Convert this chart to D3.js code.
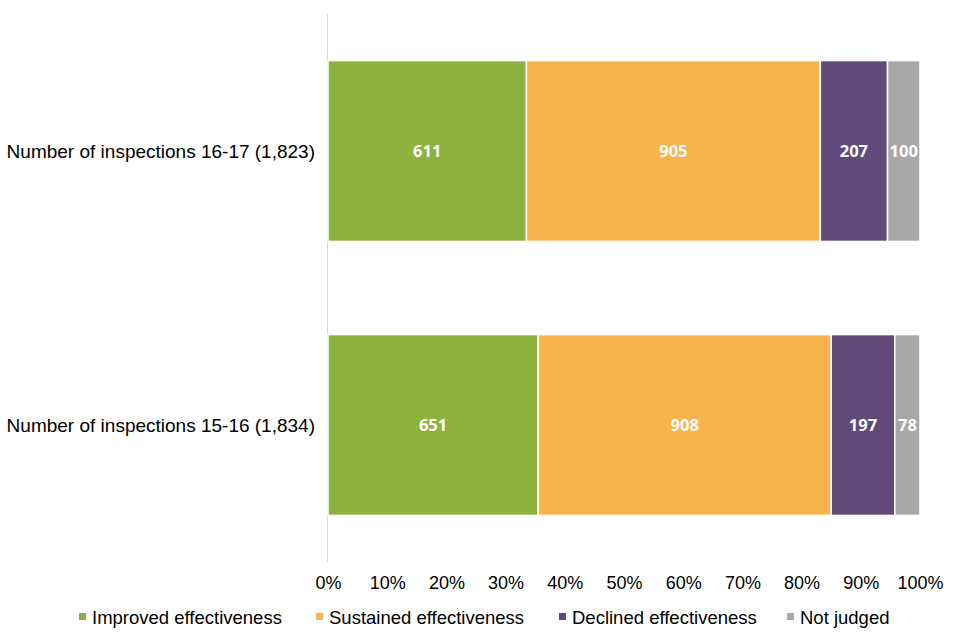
<!DOCTYPE html>
<html>
<head>
<meta charset="utf-8">
<script src="https://cdn.jsdelivr.net/npm/d3@7"></script>
<style>
  body { margin: 0; background: #fff; }
  text { font-family: "Liberation Sans", Arial, sans-serif; }
  .barlabel { font-family: "Open Sans", "Noto Sans", sans-serif; font-weight: bold; fill: #fff; }
</style>
</head>
<body>
<div id="chart"></div>
<script>
const categories = ["Number of inspections 16-17 (1,823)", "Number of inspections 15-16 (1,834)"];
const seriesNames = ["Improved effectiveness", "Sustained effectiveness", "Declined effectiveness", "Not judged"];
const improved = [611, 651];
const sustained = [905, 908];
const declined = [207, 197];
const notJudged = [100, 78];
const tickValues = [0, 0.1, 0.2, 0.3, 0.4, 0.5, 0.6, 0.7, 0.8, 0.9, 1];
const colors = ["#8cb33f", "#f8b34d", "#604a7a", "#a8a8a8"];

const width = 960, height = 640;
const margin = { left: 328, right: 40, top: 14, bottom: 78 };

// build rows from the arrays
const rows = categories.map((c, i) => {
  const vals = [improved[i], sustained[i], declined[i], notJudged[i]];
  const total = d3.sum(vals);
  let acc = 0;
  return {
    cat: c,
    parts: vals.map((v, k) => {
      const p = { key: k, value: v, x0: acc / total, x1: (acc + v) / total };
      acc += v;
      return p;
    })
  };
});

const svg = d3.select("#chart").append("svg")
  .attr("width", width)
  .attr("height", height);

const x = d3.scaleLinear()
  .domain([0, 1])
  .range([margin.left, 920]);

const y = d3.scaleBand()
  .domain(categories)
  .range([margin.top, height - margin.bottom])
  .paddingInner(0.34)
  .paddingOuter(0.17);

// vertical axis line
svg.append("line")
  .attr("x1", x(0) - 0.5).attr("x2", x(0) - 0.5)
  .attr("y1", margin.top).attr("y2", height - margin.bottom)
  .attr("stroke", "#d9d9d9").attr("stroke-width", 1);

//------------------------------------------------------------- bars
const g = svg.selectAll("g.row")
  .data(rows)
  .enter().append("g")
  .attr("class", "row");

g.selectAll("rect")
  .data(d => d.parts.map(p => Object.assign({ cat: d.cat }, p)))
  .enter().append("rect")
  .attr("x", d => x(d.x0))
  .attr("y", d => y(d.cat))
  .attr("width", d => x(d.x1) - x(d.x0))
  .attr("height", y.bandwidth())
  .attr("fill", d => colors[d.key])
  .attr("stroke", "#fff")
  .attr("stroke-width", 1.5);

g.selectAll("text.barlabel")
  .data(d => d.parts.map(p => Object.assign({ cat: d.cat }, p)))
  .enter().append("text")
  .attr("class", "barlabel")
  .attr("x", d => (x(d.x0) + x(d.x1)) / 2)
  .attr("y", d => y(d.cat) + y.bandwidth() / 2)
  .attr("dy", "0.36em")
  .attr("text-anchor", "middle")
  .attr("font-size", 16.5)
  .text(d => d.value);

//------------------------------------------------------------- axes
const xAxis = d3.axisBottom(x)
  .tickValues(tickValues)
  .tickFormat(d3.format(".0%"))
  .tickSize(0)
  .tickPadding(0);

svg.append("g")
  .attr("transform", "translate(0," + (height - margin.bottom + 14) + ")")
  .call(xAxis)
  .call(a => a.select(".domain").remove())
  .selectAll("text")
  .attr("font-family", "Liberation Sans, Arial, sans-serif")
  .attr("font-size", 18)
  .attr("fill", "#000");

svg.selectAll("text.cat")
  .data(categories)
  .enter().append("text")
  .attr("class", "cat")
  .attr("x", 315)
  .attr("y", d => y(d) + y.bandwidth() / 2)
  .attr("dy", "0.36em")
  .attr("text-anchor", "end")
  .attr("font-size", 19)
  .attr("fill", "#000")
  .text(d => d);

//------------------------------------------------------------- legend
const legendX = [79, 316, 559, 787];
const legend = svg.selectAll("g.legend")
  .data(seriesNames)
  .enter().append("g")
  .attr("class", "legend")
  .attr("transform", (d, i) => "translate(" + legendX[i] + ",617)");

legend.append("rect")
  .attr("x", 0).attr("y", -4)
  .attr("width", 7).attr("height", 7)
  .attr("fill", (d, i) => colors[i]);

legend.append("text")
  .attr("x", 13)
  .attr("dy", "0.36em")
  .attr("font-size", 18.5)
  .attr("fill", "#000")
  .text(d => d);
</script>
</body>
</html>
